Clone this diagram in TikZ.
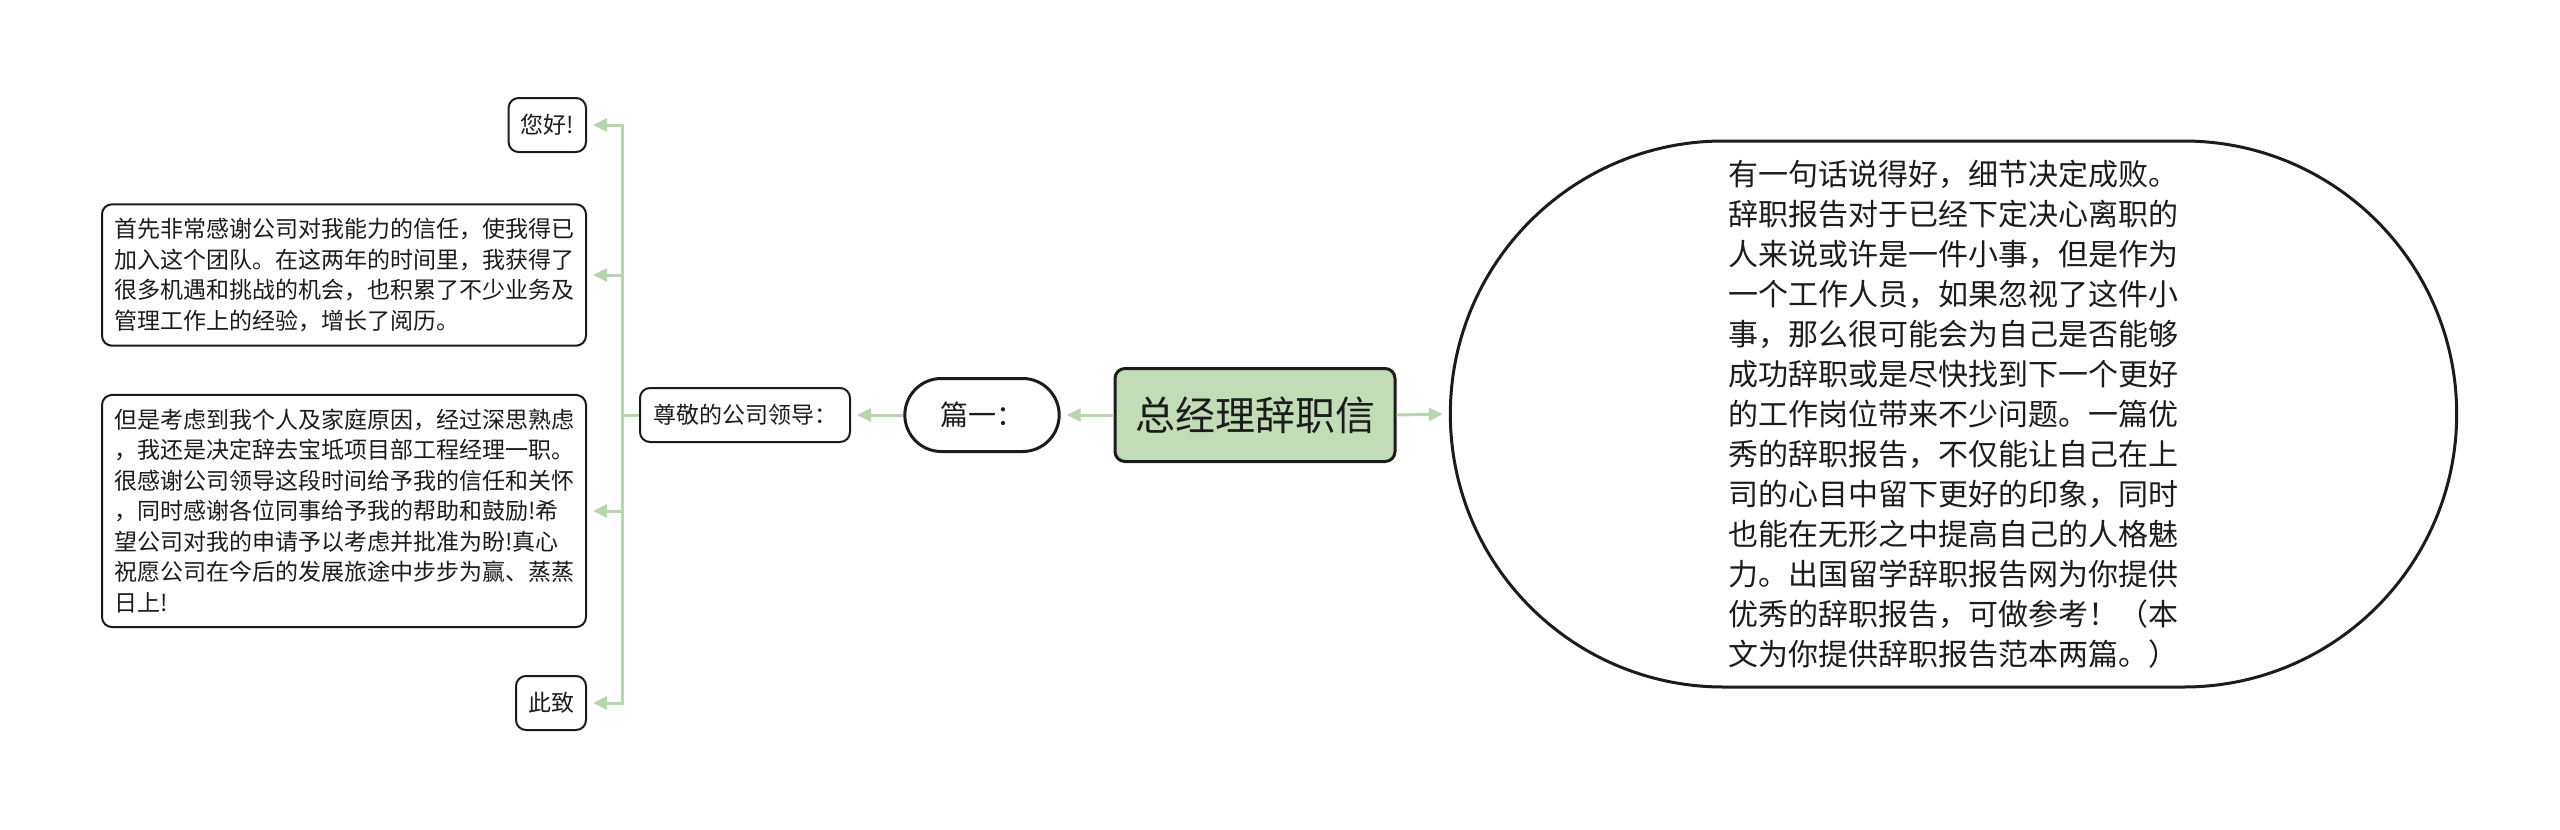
\documentclass[tikz,border=0pt]{standalone}
\usepackage{fontspec}
\setmainfont{Noto Sans CJK SC}
\usetikzlibrary{arrows.meta,shapes.misc}
\definecolor{lnk}{RGB}{184,214,173}
\definecolor{rootfill}{RGB}{194,220,184}
\definecolor{ink}{RGB}{28,28,28}
\begin{document}
\begin{tikzpicture}[x=1pt,y=-1pt,
  box/.style={draw=ink, line width=2pt, rounded corners=10pt, fill=white, text=ink,
    inner xsep=12pt, inner ysep=0pt, minimum height=54pt,
    font=\fontsize{23pt}{30.5pt}\selectfont, align=left},
  para/.style={box, inner ysep=14pt},
  root/.style={draw=ink, line width=3pt, rounded corners=10pt, fill=rootfill, text=ink,
    minimum width=280pt, minimum height=93pt, font=\fontsize{40pt}{48pt}\selectfont},
  stad/.style={rounded rectangle, draw=ink, line width=3pt, fill=white, text=ink},
  link/.style={draw=lnk, line width=3pt, -{Triangle[length=14pt,width=13pt]}, shorten >=6pt},
  plainlink/.style={draw=lnk, line width=3pt}
]
\useasboundingbox (0,0) rectangle (2560,830);

\node[root] (root) at (1255,415) {总经理辞职信};
\node[stad, minimum width=161pt, minimum height=73pt, font=\fontsize{28pt}{34pt}\selectfont] (pian) at (982,415) {篇一：};
\node[box, minimum width=210pt] (zun) at (745,415) {尊敬的公司领导：};

\node[stad, minimum width=1013pt, minimum height=546pt, font=\fontsize{30pt}{40pt}\selectfont, align=left] (big) at (1953.5,414) {有一句话说得好，细节决定成败。\\
辞职报告对于已经下定决心离职的\\
人来说或许是一件小事，但是作为\\
一个工作人员，如果忽视了这件小\\
事，那么很可能会为自己是否能够\\
成功辞职或是尽快找到下一个更好\\
的工作岗位带来不少问题。一篇优\\
秀的辞职报告，不仅能让自己在上\\
司的心目中留下更好的印象，同时\\
也能在无形之中提高自己的人格魅\\
力。出国留学辞职报告网为你提供\\
优秀的辞职报告，可做参考！（本\\
文为你提供辞职报告范本两篇。）};

\node[box, anchor=east] (hello) at (587,125) {您好!};
\node[para, anchor=east] (b2) at (587,275) {首先非常感谢公司对我能力的信任，使我得已\\
加入这个团队。在这两年的时间里，我获得了\\
很多机遇和挑战的机会，也积累了不少业务及\\
管理工作上的经验，增长了阅历。};
\node[para, anchor=east] (b3) at (587,511) {但是考虑到我个人及家庭原因，经过深思熟虑\\
，我还是决定辞去宝坻项目部工程经理一职。\\
很感谢公司领导这段时间给予我的信任和关怀\\
，同时感谢各位同事给予我的帮助和鼓励!希\\
望公司对我的申请予以考虑并批准为盼!真心\\
祝愿公司在今后的发展旅途中步步为赢、蒸蒸\\
日上!};
\node[box, anchor=east] (zhici) at (587,703) {此致};

\coordinate (trunk) at (622,415);

\draw[link] (root.west) -- (pian.east);
\draw[link] (root.east) -- (big.west);
\draw[link] (pian.west) -- (zun.east);
\draw[plainlink] (zun.west) -- (trunk);
\draw[link] (trunk) |- (hello.east);
\draw[link] (trunk) |- (b2.east);
\draw[link] (trunk) |- (b3.east);
\draw[link] (trunk) |- (zhici.east);
\end{tikzpicture}
\end{document}
